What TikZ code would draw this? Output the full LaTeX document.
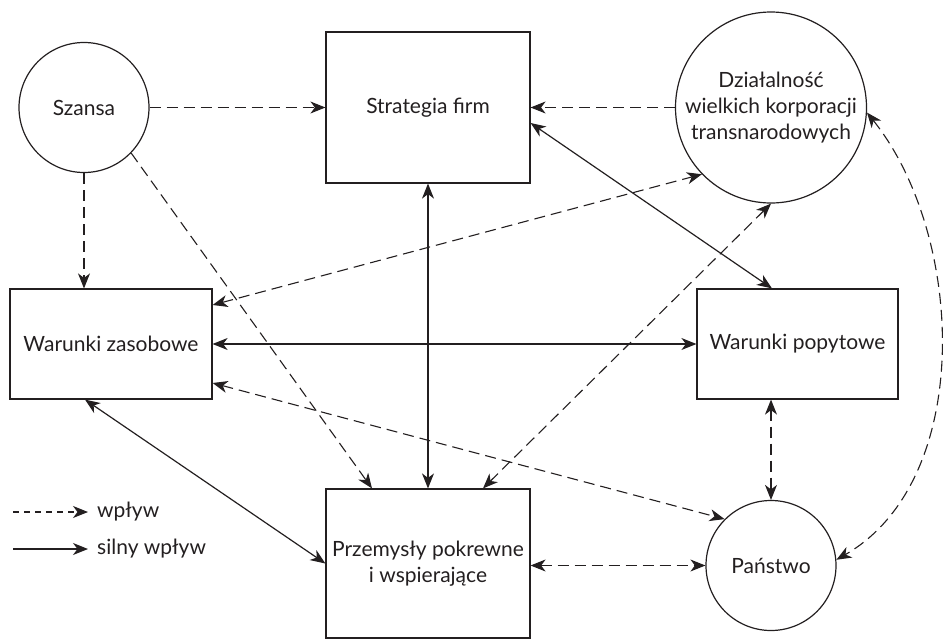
\documentclass[tikz,border=0pt]{standalone}
\usepackage{fontspec}
\setmainfont{Lato}
\usetikzlibrary{arrows.meta}
\definecolor{ink}{RGB}{35,31,32}
\begin{document}
\begin{tikzpicture}[x=1pt,y=-1pt,
  font=\fontsize{21}{26}\selectfont,
  >={Stealth[length=15pt,width=12pt,inset=4.5pt]},
  box/.style={draw=ink, line width=1.2pt, inner sep=0pt, align=center, text=ink},
  circ/.style={draw=ink, circle, line width=1.2pt, inner sep=0pt, align=center, text=ink},
  strong/.style={draw=ink, line width=1.2pt},
  weak/.style={draw=ink, line width=1.1pt, dash pattern=on 11pt off 6pt},
  legtext/.style={anchor=west, inner sep=0pt, text=ink}]
\useasboundingbox (0,0) rectangle (945,640);

% nodes
\node[circ, minimum size=130pt] (sz) at (84,107.5) {Szansa};
\node[box, minimum width=204pt, minimum height=151pt] (strat) at (428,107.5) {Strategia firm};
\node[circ, minimum size=191pt] (dz) at (771,107.5) {Działalność\\wielkich korporacji\\transnarodowych};
\node[box, minimum width=202pt, minimum height=110pt] (zas) at (111,344) {Warunki zasobowe};
\node[box, minimum width=201pt, minimum height=110pt] (pop) at (797.5,344) {Warunki popytowe};
\node[box, minimum width=204pt, minimum height=149pt] (prz) at (428,563.5) {Przemysły pokrewne\\i wspierające};
\node[circ, minimum size=130pt] (pan) at (771,565.5) {Państwo};

% connectors
\draw[weak,->] (sz.east) -- (strat.west);
\draw[weak,->] (dz.west) -- (strat.east);
\draw[strong,<->] ([yshift=-15.5pt]strat.east) -- ([xshift=-25.5pt]pop.north);
\draw[weak,->] (sz.south) -- (sz.south |- zas.north);
\draw[weak,->] (sz.-44) -- ([xshift=-56pt]prz.north);
\draw[strong,<->] (strat.south) -- (prz.north);
\draw[weak,<->] ([xshift=55pt]prz.north) -- (dz.south);
\draw[weak,<->] ([yshift=39pt]zas.east) -- (dz.224);
\draw[strong,<->] (zas.east) -- (pop.west);
\draw[weak,<->] ([yshift=-39pt]zas.east) -- (pan.135);
\draw[strong,<->] ([xshift=-26pt]zas.south) -- (prz.west);
\draw[weak,<->] (pan.north |- pop.south) -- (pan.north);
\draw[weak,<->] (pan.west -| prz.east) -- (pan.west);
\draw[weak,<->] (dz.-3) .. controls (965,235) and (975,480) .. (pan.5);

% legend
\coordinate (l1a) at (13,512);
\coordinate (l1b) at (88,512);
\coordinate (l2a) at (13,549);
\coordinate (l2b) at (88,549);
\draw[draw=ink, line width=1.1pt, dash pattern=on 6pt off 5pt, ->] (l1a) -- (l1b);
\draw[strong,->] (l2a) -- (l2b);
\node[legtext] (lw) at (97,512) {wpływ};
\node[legtext] (ls) at (97,549) {silny wpływ};
\end{tikzpicture}
\end{document}
